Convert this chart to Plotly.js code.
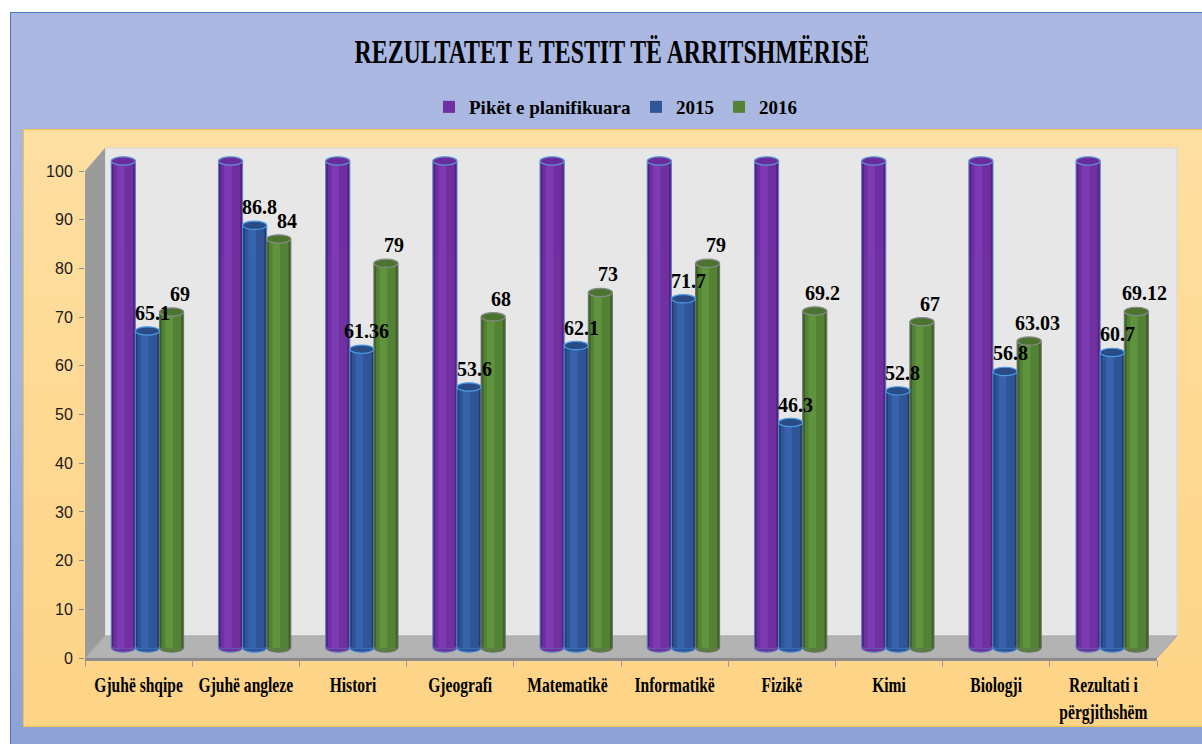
<!DOCTYPE html>
<html>
<head>
<meta charset="utf-8">
<script src="https://cdn.plot.ly/plotly-3.0.1.min.js"></script>
<style>
  html, body { margin: 0; padding: 0; background: #ffffff; width: 1202px; height: 744px; overflow: hidden; }
  #outer { position: absolute; left: 10px; top: 12px; width: 1200px; height: 740px;
           background: linear-gradient(to bottom, #abb9e2 0%, #a4b3df 50%, #8ca1d6 100%);
           border-top: 1px solid #4f78c4; border-left: 1px solid #4f78c4; }
  #inner { position: absolute; left: 23px; top: 129px; width: 1190px; height: 596px;
           background: linear-gradient(to bottom, #fedfa2 0%, #fed993 50%, #fed486 100%);
           border: 1px solid #f3c04a; }
  #chart { position: absolute; left: 0; top: 0; width: 1202px; height: 744px; }
</style>
</head>
<body>
<div id="outer"></div>
<div id="inner"></div>
<div id="chart"></div>
<script>
// ---------------- data ----------------
const categories = ['Gjuhë shqipe', 'Gjuhë angleze', 'Histori', 'Gjeografi', 'Matematikë',
                    'Informatikë', 'Fizikë', 'Kimi', 'Biologji', 'Rezultati i<br>përgjithshëm'];
const seriesNames = ['Pikët e planifikuara', '2015', '2016'];
const planned = [100, 100, 100, 100, 100, 100, 100, 100, 100, 100];
const y2015 = [65.1, 86.8, 61.36, 53.6, 62.1, 71.7, 46.3, 52.8, 56.8, 60.7];
const y2016 = [69, 84, 79, 68, 73, 79, 69.2, 67, 63.03, 69.12];
const yTicks = [0, 10, 20, 30, 40, 50, 60, 70, 80, 90, 100];
const titleText = 'REZULTATET E TESTIT TË ARRITSHMËRISË';

// ---------------- geometry / styles ----------------
const W = 1202, Hh = 744;
const PL = 85, PR = 1157, PT = 148, PB = 658;
const PH = PB - PT, PW = PR - PL;
const px = v => (v - PL) / PW;
const py = v => (PB - v) / PH;

// bar (back-plane) value axis: 0 at 648px, 100 at 161px
const B0 = 648, B100 = 161, K = (B0 - B100) / 100;
const Y2MIN = -2, Y2MAX = 102.5;

const BW = 0.225;
const styles = [
  { off: -0.255, dark: '#55208a', mid: '#7030a0', light: '#7f3db6', edge: '#5a7fbf', cap: '#6a2c9c', capEdge: '#5b93d3', label: false, xs: 0 },
  { off: -0.030, dark: '#21406f', mid: '#2f5597', light: '#3966b0', edge: '#3f8ad8', cap: '#294b86', capEdge: '#4a9be2', label: true, xs: 5 },
  { off:  0.195, dark: '#3d6226', mid: '#548235', light: '#62963f', edge: '#6e6e6e', cap: '#4a7430', capEdge: '#8a8a8a', label: true, xs: 8 }
];
const seriesVals = [planned, y2015, y2016];

const traces = [];
traces.push({ type: 'scatter', x: [], y: [], xaxis: 'x', yaxis: 'y', showlegend: false, hoverinfo: 'skip' });

seriesVals.forEach((vals, s) => {
  const st = styles[s];
  traces.push({ type: 'bar', x: categories, y: vals, xaxis: 'x', yaxis: 'y2', offset: st.off, width: BW,
    marker: { color: st.dark, line: { color: st.edge, width: 1 } }, showlegend: false, hoverinfo: 'skip' });
  traces.push({ type: 'bar', x: categories, y: vals, xaxis: 'x', yaxis: 'y2', offset: st.off + 0.022, width: BW - 0.044,
    marker: { color: st.mid, line: { width: 0 } }, name: seriesNames[s], showlegend: true, hoverinfo: 'skip' });
  traces.push({ type: 'bar', x: categories, y: vals, xaxis: 'x', yaxis: 'y2', offset: st.off + 0.055, width: 0.07,
    marker: { color: st.light, line: { width: 0 } }, showlegend: false, hoverinfo: 'skip', opacity: 0.85 });
});

const shapes = [];
shapes.push({ type: 'rect', xref: 'paper', yref: 'paper', x0: px(105), x1: px(1177), y0: py(636), y1: py(148),
  fillcolor: '#e7e7e7', line: { color: '#d6d6d6', width: 1 }, layer: 'below' });
shapes.push({ type: 'path', xref: 'paper', yref: 'paper',
  path: `M ${px(85)} ${py(658)} L ${px(85)} ${py(171)} L ${px(105)} ${py(148)} L ${px(105)} ${py(636)} Z`,
  fillcolor: '#9b9b9b', line: { width: 0 }, layer: 'below' });
shapes.push({ type: 'path', xref: 'paper', yref: 'paper',
  path: `M ${px(85)} ${py(658)} L ${px(105)} ${py(636)} L ${px(1177)} ${py(636)} L ${px(1157)} ${py(658)} Z`,
  fillcolor: '#b3b3b3', line: { color: '#a5a5a5', width: 1 }, layer: 'below' });

const CAP = 0.85;
seriesVals.forEach((vals, s) => {
  const st = styles[s];
  vals.forEach((v, i) => {
    shapes.push({ type: 'circle', xref: 'x', yref: 'y2', x0: i + st.off, x1: i + st.off + BW, y0: -CAP, y1: CAP,
      fillcolor: st.mid, line: { color: st.edge, width: 1 }, layer: 'below' });
    shapes.push({ type: 'circle', xref: 'x', yref: 'y2', x0: i + st.off, x1: i + st.off + BW, y0: v - CAP, y1: v + CAP,
      fillcolor: st.cap, line: { color: st.capEdge, width: 1.2 }, layer: 'above' });
  });
});

const annotations = [];
seriesVals.forEach((vals, s) => {
  const st = styles[s];
  if (!st.label) return;
  vals.forEach((v, i) => {
    annotations.push({ xref: 'x', yref: 'y2', x: i + st.off + BW / 2, y: v, text: String(v),
      showarrow: false, xanchor: 'center', yanchor: 'bottom', xshift: st.xs, yshift: 5,
      font: { family: 'Liberation Serif, serif', size: 20, weight: 700, color: '#000000' } });
  });
});

const layout = {
  width: W, height: Hh,
  margin: { l: PL, r: W - PR, t: PT, b: Hh - PB, pad: 0 },
  paper_bgcolor: 'rgba(0,0,0,0)',
  plot_bgcolor: 'rgba(0,0,0,0)',
  barmode: 'overlay',
  showlegend: true,
  hovermode: false,
  title: { text: titleText, xref: 'container', yref: 'container', x: 612 / W, xanchor: 'center',
           y: 1 - 51 / Hh, yanchor: 'middle',
           font: { family: 'Liberation Serif, serif', size: 33, weight: 700, color: '#000000' } },
  legend: { orientation: 'h', x: px(616), xanchor: 'center', y: py(107), yanchor: 'middle',
            bgcolor: 'rgba(0,0,0,0)', font: { family: 'Liberation Serif, serif', size: 19, weight: 700, color: '#000000' },
            traceorder: 'normal' },
  xaxis: { type: 'category', range: [-0.5, 9.5], fixedrange: true, anchor: 'y',
           showline: true, linecolor: '#8c8c8c', linewidth: 2.5, showgrid: false, zeroline: false,
           ticks: 'outside', tickson: 'boundaries', ticklen: 6, tickcolor: '#9a9a9a', tickwidth: 1,
           tickangle: 0, ticklabelstandoff: 6,
           tickfont: { family: 'Liberation Serif, serif', size: 21, weight: 700, color: '#000000' } },
  yaxis: { domain: [0, (PB - 171) / PH], range: [0, 100], fixedrange: true, anchor: 'x',
           tickmode: 'array', tickvals: yTicks, ticktext: yTicks.map(String),
           showline: false, showgrid: false, zeroline: false,
           ticks: 'outside', ticklen: 5, tickcolor: '#8c8c8c', tickwidth: 1, ticklabelstandoff: 3,
           tickfont: { family: 'Liberation Sans Narrow, sans-serif', size: 16, color: '#1a1a1a' } },
  yaxis2: { domain: [(PB - (B0 - Y2MIN * K)) / PH, (PB - (B100 - (Y2MAX - 100) * K)) / PH],
            range: [Y2MIN, Y2MAX], anchor: 'free', position: 0,
            visible: false, fixedrange: true, showgrid: false, zeroline: false },
  shapes: shapes,
  annotations: annotations
};

function squishEl(el, factor, target) {
  const L = el.getComputedTextLength();
  if (!(L > 0)) return;
  const T = target ? target : L * factor;
  el.setAttribute('textLength', T.toFixed(1));
  el.setAttribute('lengthAdjust', 'spacingAndGlyphs');
}
function squish(sel, factor) {
  document.querySelectorAll(sel).forEach(t => {
    const lines = t.querySelectorAll('tspan.line');
    if (lines.length) lines.forEach(l => squishEl(l, factor));
    else squishEl(t, factor);
  });
}

Plotly.newPlot('chart', traces, layout, { displayModeBar: false, staticPlot: true }).then(() => {
  try {
    const tt = document.querySelector('.gtitle');
    if (tt) squishEl(tt, 1, 515);
    squish('.xtick text', 0.74);
  } catch (e) { console.log(e); }
});
</script>
</body>
</html>
